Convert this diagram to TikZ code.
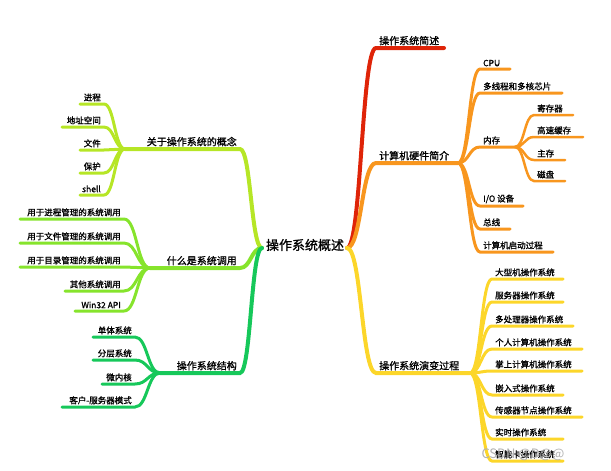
\documentclass[tikz,border=0pt]{standalone}
\usepackage{fontspec}
\setmainfont{Noto Sans CJK SC}[BoldFont=Noto Sans CJK SC,BoldFeatures={FakeBold=1.2}]
\usetikzlibrary{calc}
\definecolor{cred}{HTML}{DF2408}
\definecolor{corange}{HTML}{F8961E}
\definecolor{cyellow}{HTML}{FCD62A}
\definecolor{clime}{HTML}{B6E626}
\definecolor{cgreen}{HTML}{86E42C}
\definecolor{cdark}{HTML}{16C85A}
\tikzset{leaf/.style={font=\fontsize{8.5}{9}\selectfont\bfseries, inner sep=1pt},
 branch/.style={font=\fontsize{10}{11}\selectfont\bfseries, inner sep=1pt},
 wire/.style={line cap=round}}
\newcommand\brR[9]{%
 \draw[wire,#1,line width=#2] let \p1=(#3) in (\p1) .. controls ({(\x1+#4pt)/2},\y1) and ({(\x1+#4pt)/2},-#6pt) .. (#4pt,-#6pt) -- (#5pt,-#6pt) coordinate (#7);
 \node[#9,anchor=south west] (#7t) at (#4pt+2pt,-#6pt+1.5pt) {#8};}
\newcommand\brL[9]{%
 \draw[wire,#1,line width=#2] let \p1=(#3) in (\p1) .. controls ({(\x1+#4pt)/2},\y1) and ({(\x1+#4pt)/2},-#6pt) .. (#4pt,-#6pt) -- (#5pt,-#6pt) coordinate (#7);
 \node[#9,anchor=south east] (#7t) at (#4pt-2pt,-#6pt+1.5pt) {#8};}
\begin{document}
\begin{tikzpicture}[x=1pt,y=1pt]
\useasboundingbox (0,0) rectangle (611,-471);
\node[font=\fontsize{13}{14}\selectfont\bfseries, inner sep=1pt] (root) at (305,-245) {操作系统概述};
\coordinate (rR) at (347,-248);
\coordinate (rL) at (262,-248);
\brR{cred}{4pt}{rR}{376}{444}{48}{a}{操作系统简述}{branch}
\brR{corange}{4pt}{rR}{376}{458}{163}{b}{计算机硬件简介}{branch}
\brR{corange}{3pt}{b}{480}{510}{69}{b1}{CPU}{leaf}
\brR{corange}{3pt}{b}{480}{562}{93}{b2}{多线程和多核芯片}{leaf}
\brR{corange}{3pt}{b}{480}{515}{147}{b3}{内存}{leaf}
\brR{corange}{2.5pt}{b3}{534}{573}{115}{b31}{寄存器}{leaf}
\brR{corange}{2.5pt}{b3}{534}{583}{137}{b32}{高速缓存}{leaf}
\brR{corange}{2.5pt}{b3}{534}{565}{160}{b33}{主存}{leaf}
\brR{corange}{2.5pt}{b3}{534}{565}{181}{b34}{磁盘}{leaf}
\brR{corange}{3pt}{b}{480}{523}{206}{b4}{I/O 设备}{leaf}
\brR{corange}{3pt}{b}{480}{510}{229}{b5}{总线}{leaf}
\brR{corange}{3pt}{b}{480}{553}{252}{b6}{计算机启动过程}{leaf}
\brR{cyellow}{4pt}{rR}{376}{470}{373}{c}{操作系统演变过程}{branch}
\brR{cyellow}{3pt}{c}{492}{563}{279}{c1}{大型机操作系统}{leaf}
\brR{cyellow}{3pt}{c}{492}{563}{302}{c2}{服务器操作系统}{leaf}
\brR{cyellow}{3pt}{c}{492}{573}{326}{c3}{多处理器操作系统}{leaf}
\brR{cyellow}{3pt}{c}{492}{582}{349}{c4}{个人计算机操作系统}{leaf}
\brR{cyellow}{3pt}{c}{492}{582}{371}{c5}{掌上计算机操作系统}{leaf}
\brR{cyellow}{3pt}{c}{492}{563}{395}{c6}{嵌入式操作系统}{leaf}
\brR{cyellow}{3pt}{c}{492}{582}{417}{c7}{传感器节点操作系统}{leaf}
\brR{cyellow}{3pt}{c}{492}{563}{439}{c8}{实时操作系统}{leaf}
\brR{cyellow}{3pt}{c}{492}{563}{461}{c9}{智能卡操作系统}{leaf}
\brL{clime}{4pt}{rL}{240}{125}{149}{d}{关于操作系统的概念}{branch}
\brL{clime}{3pt}{d}{104}{80}{104}{d1}{进程}{leaf}
\brL{clime}{3pt}{d}{104}{62}{127}{d2}{地址空间}{leaf}
\brL{clime}{3pt}{d}{104}{80}{150}{d3}{文件}{leaf}
\brL{clime}{3pt}{d}{104}{80}{173}{d4}{保护}{leaf}
\brL{clime}{3pt}{d}{104}{80}{195}{d5}{shell}{leaf}
\brL{cgreen}{4pt}{rL}{240}{150}{268}{e}{什么是系统调用}{branch}
\brL{cgreen}{3pt}{e}{124}{20}{219}{e1}{用于进程管理的系统调用}{leaf}
\brL{cgreen}{3pt}{e}{124}{20}{243}{e2}{用于文件管理的系统调用}{leaf}
\brL{cgreen}{3pt}{e}{124}{20}{267}{e3}{用于目录管理的系统调用}{leaf}
\brL{cgreen}{3pt}{e}{124}{65}{291}{e4}{其他系统调用}{leaf}
\brL{cgreen}{3pt}{e}{124}{75}{311}{e5}{Win32 API}{leaf}
\brL{cdark}{4pt}{rL}{240}{160}{373}{f}{操作系统结构}{branch}
\brL{cdark}{3pt}{f}{135}{93}{337}{f1}{单体系统}{leaf}
\brL{cdark}{3pt}{f}{135}{93}{360}{f2}{分层系统}{leaf}
\brL{cdark}{3pt}{f}{135}{102}{384}{f3}{微内核}{leaf}
\brL{cdark}{3pt}{f}{135}{62}{407}{f4}{客户-服务器模式}{leaf}
\node[font=\fontsize{13}{13}\selectfont, text=gray!60, anchor=west] (wm) at (478,-455) {CSDN @D@@};
\end{tikzpicture}
\end{document}
